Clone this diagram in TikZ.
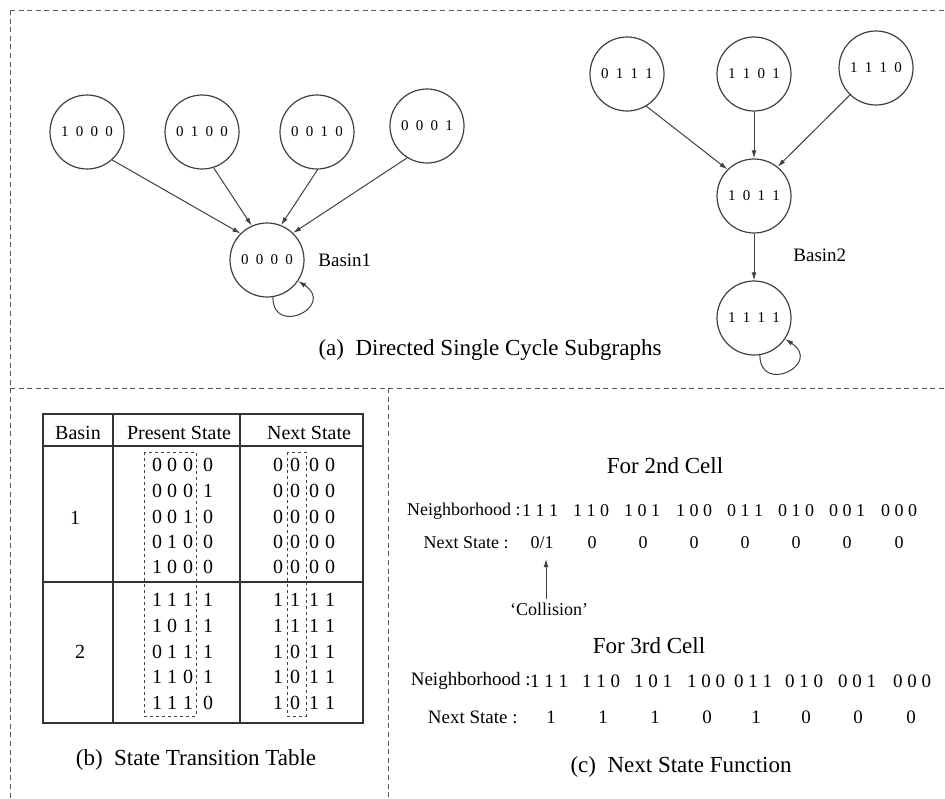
\documentclass[tikz,border=0pt]{standalone}
\usepackage{fontspec}
\setmainfont{Liberation Serif}
\usetikzlibrary{arrows.meta}
\newcommand\cdg[4]{#1\hspace{3.6pt}#2\hspace{3.6pt}#3\hspace{3.6pt}#4}
\newcommand\fsz[1]{\fontsize{#1}{#1}\selectfont}
\begin{document}
\begin{tikzpicture}[x=0.5pt,y=-0.5pt,
  state/.style={circle,draw=black!75,line width=0.6pt,minimum size=37pt,inner sep=0pt,font=\fsz{7.5}},
  edge/.style={draw=black!75,line width=0.5pt,-{Latex[length=4pt,width=2.4pt]}},
  frame/.style={draw=black!65,line width=0.5pt,dash pattern=on 2.5pt off 1.8pt},
  tbl/.style={draw=black!80,line width=0.8pt},
  dbox/.style={draw=black!75,line width=0.5pt,dash pattern=on 1.5pt off 1.5pt},
  captxt/.style={font=\fsz{11.5},inner sep=0pt},
  lbl/.style={font=\fsz{9.5},inner sep=0pt},
  tx/.style={font=\fsz{10},inner sep=0pt},
  fn/.style={font=\fsz{9.5},inner sep=0pt},
  fnb/.style={font=\fsz{9},inner sep=0pt}
]
\useasboundingbox (0,0) rectangle (945,798);
% frame
\draw[frame] (10,10) -- (945,10);
\draw[frame] (10,10) -- (10,798);
\draw[frame] (10,388) -- (945,388);
\draw[frame] (388,388) -- (388,798);

% ---------- (a) graphs ----------
\node[state] (s1000) at (87,132) {\cdg1000};
\node[state] (s0100) at (202,132) {\cdg0100};
\node[state] (s0010) at (317,132) {\cdg0010};
\node[state] (s0001) at (427,126) {\cdg0001};
\node[state] (s0000) at (267,260) {\cdg0000};
\node[lbl,anchor=west] (b1) at (318,260) {Basin1};
\draw[edge] (s1000.-48) -- (s0000.135);
\draw[edge] (s0100.-72) -- (s0000.114);
\draw[edge] (s0010.-89) -- (s0000.68);
\draw[edge] (s0001.-122) -- (s0000.46);
\draw[edge] (s0000.-81) .. controls +(0,40) and +(38,25) .. (s0000.-34);

\node[state] (s0111) at (627,74) {\cdg0111};
\node[state] (s1101) at (754,74) {\cdg1101};
\node[state] (s1110) at (876,68) {\cdg1110};
\node[state] (s1011) at (754,196) {\cdg1011};
\node[state] (s1111) at (754,318) {\cdg1111};
\node[lbl,anchor=west] (b2) at (793,255) {Basin2};
\draw[edge] (s0111.-59) -- (s1011.135);
\draw[edge] (s1101) -- (s1011);
\draw[edge] (s1110.-134) -- (s1011.51);
\draw[edge] (s1011) -- (s1111);
\draw[edge] (s1111.-81) .. controls +(0,40) and +(38,25) .. (s1111.-34);

\node[captxt] (capa) at (490,350) {(a)\ \ Directed Single Cycle Subgraphs};

% ---------- (b) table ----------
\draw[tbl] (43,414) rectangle (363,723);
\draw[tbl] (43,446) -- (363,446);
\draw[tbl] (43,582) -- (363,582);
\draw[tbl] (113,414) -- (113,723);
\draw[tbl] (240,414) -- (240,723);
\node[tx] (h1) at (78,433) {Basin};
\node[tx] (h2) at (179,433) {Present State};
\node[tx] (h3) at (309,433) {Next State};
\node[tx] (bas1) at (75,518) {1};
\node[tx] (bas2) at (80,652) {2};
\foreach \y/\a/\b/\c/\d/\e/\f/\g/\h [count=\i] in {
  465/0/0/0/0/0/0/0/0, 491/0/0/0/1/0/0/0/0, 517/0/0/1/0/0/0/0/0,
  542/0/1/0/0/0/0/0/0, 567/1/0/0/0/0/0/0/0,
  600/1/1/1/1/1/1/1/1, 626/1/0/1/1/1/1/1/1, 652/0/1/1/1/1/0/1/1,
  677/1/1/0/1/1/0/1/1, 703/1/1/1/0/1/0/1/1}{
  \node[tx] (p\i-1) at (157,\y) {\a};
  \node[tx] (p\i-2) at (172,\y) {\b};
  \node[tx] (p\i-3) at (188,\y) {\c};
  \node[tx] (p\i-4) at (208,\y) {\d};
  \node[tx] (n\i-1) at (278,\y) {\e};
  \node[tx] (n\i-2) at (295,\y) {\f};
  \node[tx] (n\i-3) at (314,\y) {\g};
  \node[tx] (n\i-4) at (330,\y) {\h};
}
\draw[dbox] (144,452) rectangle (196,716);
\draw[dbox] (287,452) rectangle (306,716);
\node[captxt] (capb) at (196,760) {(b)\ \ State Transition Table};

% ---------- (c) next state function ----------
\node[captxt] (f2) at (665,466) {For 2nd Cell};
\node[fnb,anchor=east] (nb2) at (521,511) {Neighborhood :};
\foreach \x/\t [count=\i] in {540/1 1 1, 591/1 1 0, 642/1 0 1, 694/1 0 0,
   745/0 1 1, 796/0 1 0, 847/0 0 1, 899/0 0 0}{
  \node[fnb] (nh2-\i) at (\x,511) {\t};
}
\node[fnb,anchor=east] (ns2) at (509,543) {Next State :};
\node[fnb] (v01) at (542,543) {0/1};
\foreach \x/\t [count=\i] in {592/0, 643/0, 694/0, 745/0, 796/0, 847/0, 899/0}{
  \node[fnb] (v2-\i) at (\x,543) {\t};
}
\node[fnb] (coll) at (549,609) {`Collision'};
\coordinate (ctip) at (546,559);
\draw[edge] ([yshift=1.5pt]coll.north -| ctip) -- (ctip);

\node[captxt] (f3) at (649,646) {For 3rd Cell};
\node[fn,anchor=east] (nb3) at (531,681) {Neighborhood :};
\foreach \x/\t [count=\i] in {549,601,653,706,753,804,857,912}{}
\foreach \x/\t [count=\i] in {549/1 1 1, 601/1 1 0, 653/1 0 1, 706/1 0 0,
   753/0 1 1, 804/0 1 0, 857/0 0 1, 912/0 0 0}{
  \node[fn] (nh3-\i) at (\x,681) {\t};
}
\node[fn,anchor=east] (ns3) at (518,717) {Next State :};
\foreach \x/\t [count=\i] in {551/1, 603/1, 655/1, 707/0, 756/1, 806/0, 858/0, 911/0}{
  \node[fn] (v3-\i) at (\x,717) {\t};
}
\node[captxt] (capc) at (681,767) {(c)\ \ Next State Function};
\end{tikzpicture}
\end{document}
